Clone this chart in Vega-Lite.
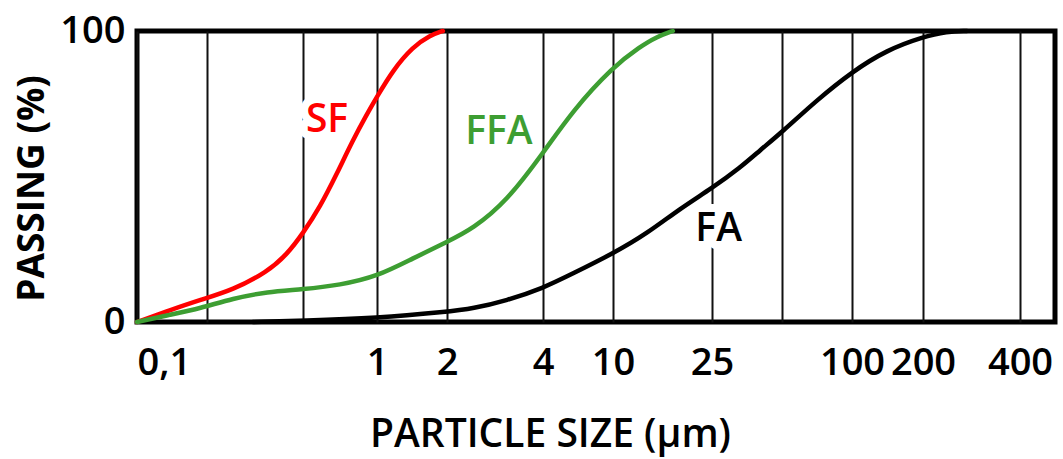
{
  "$schema": "https://vega.github.io/schema/vega-lite/v6.json",
  "width": 918,
  "height": 291,
  "autosize": "none",
  "padding": {"left": 137, "top": 31, "right": 8, "bottom": 137},
  "background": "white",
  "config": {
    "view": {"stroke": "black", "strokeWidth": 5},
    "font": "Open Sans"
  },
  "datasets": {
    "curves": [
      {"series": "SF", "size": 0.1, "passing": 0},
      {"series": "SF", "size": 0.139, "passing": 4.1},
      {"series": "SF", "size": 0.187, "passing": 7.6},
      {"series": "SF", "size": 0.256, "passing": 11},
      {"series": "SF", "size": 0.355, "passing": 17.2},
      {"series": "SF", "size": 0.429, "passing": 23.2},
      {"series": "SF", "size": 0.5, "passing": 30.5},
      {"series": "SF", "size": 0.587, "passing": 39.6},
      {"series": "SF", "size": 0.687, "passing": 51},
      {"series": "SF", "size": 0.798, "passing": 62.5},
      {"series": "SF", "size": 0.911, "passing": 71.5},
      {"series": "SF", "size": 1, "passing": 77.4},
      {"series": "SF", "size": 1.172, "passing": 86.6},
      {"series": "SF", "size": 1.428, "passing": 94.6},
      {"series": "SF", "size": 1.69, "passing": 98.5},
      {"series": "SF", "size": 1.92, "passing": 100},
      {"series": "FFA", "size": 0.1, "passing": 0},
      {"series": "FFA", "size": 0.139, "passing": 2.5},
      {"series": "FFA", "size": 0.187, "passing": 4.7},
      {"series": "FFA", "size": 0.256, "passing": 8.1},
      {"series": "FFA", "size": 0.355, "passing": 10.4},
      {"series": "FFA", "size": 0.5, "passing": 11.2},
      {"series": "FFA", "size": 0.707, "passing": 12.7},
      {"series": "FFA", "size": 1, "passing": 15.6},
      {"series": "FFA", "size": 1.428, "passing": 21.9},
      {"series": "FFA", "size": 2, "passing": 27.5},
      {"series": "FFA", "size": 2.41, "passing": 32},
      {"series": "FFA", "size": 3.08, "passing": 41.5},
      {"series": "FFA", "size": 4, "passing": 58},
      {"series": "FFA", "size": 5.93, "passing": 72.8},
      {"series": "FFA", "size": 10, "passing": 87.7},
      {"series": "FFA", "size": 12.84, "passing": 94.6},
      {"series": "FFA", "size": 15, "passing": 98},
      {"series": "FFA", "size": 17.4, "passing": 100},
      {"series": "FA", "size": 0.31, "passing": 0},
      {"series": "FA", "size": 0.5, "passing": 0.4},
      {"series": "FA", "size": 1, "passing": 1.3},
      {"series": "FA", "size": 2, "passing": 3.5},
      {"series": "FA", "size": 2.41, "passing": 4.6},
      {"series": "FA", "size": 3.08, "passing": 7.4},
      {"series": "FA", "size": 4, "passing": 11.6},
      {"series": "FA", "size": 5.93, "passing": 16.7},
      {"series": "FA", "size": 10, "passing": 23.5},
      {"series": "FA", "size": 13.7, "passing": 30.4},
      {"series": "FA", "size": 18.6, "passing": 39},
      {"series": "FA", "size": 25, "passing": 46},
      {"series": "FA", "size": 33, "passing": 53},
      {"series": "FA", "size": 40.2, "passing": 59},
      {"series": "FA", "size": 50, "passing": 65.3},
      {"series": "FA", "size": 70.7, "passing": 76.3},
      {"series": "FA", "size": 100, "passing": 86},
      {"series": "FA", "size": 140.7, "passing": 93.5},
      {"series": "FA", "size": 200, "passing": 98},
      {"series": "FA", "size": 237, "passing": 99.8},
      {"series": "FA", "size": 274, "passing": 100}
    ],
    "labels": [
      {"series": "SF", "label": "SF", "size": 0.626, "passing": 69.4},
      {"series": "FFA", "label": "FFA", "size": 2.91, "passing": 65.3},
      {"series": "FA", "label": "FA", "size": 26.7, "passing": 32.1}
    ]
  },
  "encoding": {
    "x": {
      "field": "size",
      "type": "quantitative",
      "scale": {
        "type": "log",
        "domain": [0.1, 0.2, 0.5, 1, 2, 4, 10, 25, 50, 100, 200, 400, 500],
        "range": [0, 70, 166, 240, 310, 406, 476, 575, 645, 715, 786, 883, 918],
        "nice": false,
        "zero": false
      },
      "axis": {
        "title": "PARTICLE SIZE (μm)",
        "values": [0.1, 0.2, 0.5, 1, 2, 4, 10, 25, 50, 100, 200, 400],
        "labelExpr": "datum.value == 0.1 ? '0,1' : ((datum.value == 0.2 || datum.value == 0.5 || datum.value == 50) ? '' : format(datum.value, 'd'))",
        "grid": true,
        "gridColor": "#111111",
        "gridWidth": 2,
        "gridOpacity": 1,
        "domain": false,
        "ticks": false,
        "tickSize": 0,
        "labelFont": "Open Sans",
        "labelFontSize": 38,
        "labelFontWeight": 600,
        "labelColor": "black",
        "labelBaseline": "alphabetic",
        "labelPadding": 52,
        "labelFlush": true,
        "labelOverlap": false,
        "titleFont": "Open Sans",
        "titleFontSize": 39,
        "titleFontWeight": 600,
        "titleColor": "black",
        "titleX": 413,
        "titleY": 124,
        "titleBaseline": "alphabetic",
        "titleAlign": "center"
      }
    },
    "y": {
      "field": "passing",
      "type": "quantitative",
      "scale": {"domain": [0, 100], "nice": false},
      "axis": {
        "title": "PASSING (%)",
        "values": [0, 100],
        "grid": false,
        "domain": false,
        "ticks": false,
        "tickSize": 0,
        "labelFont": "Open Sans",
        "labelFontSize": 38,
        "labelFontWeight": 600,
        "labelColor": "black",
        "labelPadding": 12,
        "titleFont": "Open Sans",
        "titleFontSize": 37,
        "titleFontWeight": 700,
        "titleColor": "black",
        "titleAngle": 270,
        "titleX": -94,
        "titleY": 157,
        "titleBaseline": "alphabetic",
        "titleAlign": "center"
      }
    }
  },
  "layer": [
    {
      "data": {"name": "labels"},
      "mark": {"type": "text", "font": "Open Sans", "fontSize": 39, "fontWeight": 600, "fill": "white", "stroke": "white", "strokeWidth": 16, "strokeJoin": "round", "align": "center", "baseline": "middle"},
      "encoding": {"text": {"field": "label"}}
    },
    {
      "data": {"name": "curves"},
      "mark": {"type": "line", "interpolate": "basis", "strokeWidth": 4.5, "strokeCap": "round"},
      "encoding": {
        "color": {
          "field": "series",
          "type": "nominal",
          "scale": {"domain": ["SF", "FFA", "FA"], "range": ["#ff0000", "#3d9e32", "#000000"]},
          "legend": null
        }
      }
    },
    {
      "data": {"name": "labels"},
      "mark": {"type": "text", "font": "Open Sans", "fontSize": 39, "fontWeight": 600, "align": "center", "baseline": "middle"},
      "encoding": {
        "text": {"field": "label"},
        "color": {"field": "series", "type": "nominal", "legend": null}
      }
    }
  ]
}
